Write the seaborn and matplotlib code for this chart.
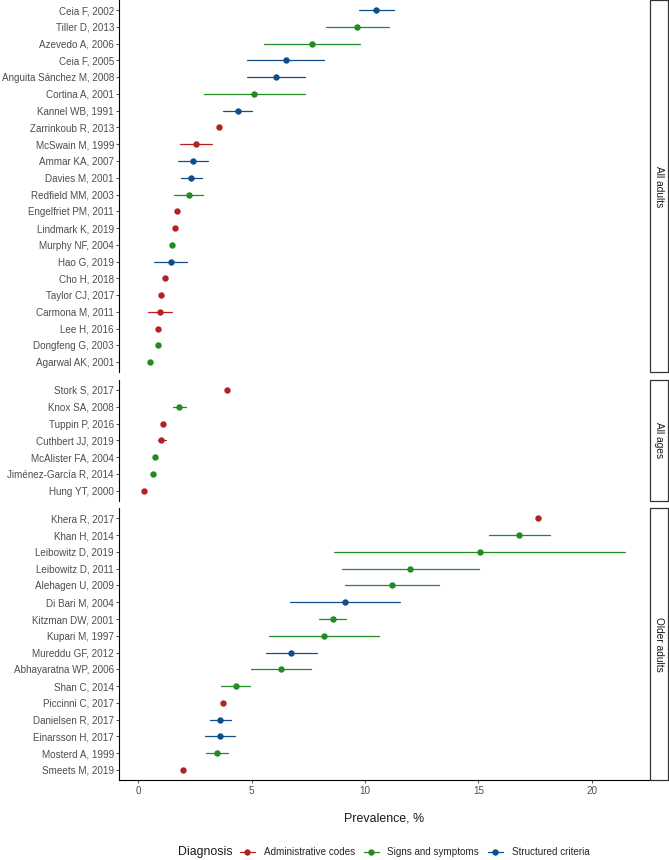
import pandas as pd
import seaborn as sns
import matplotlib.pyplot as plt
from matplotlib.lines import Line2D
from matplotlib.patches import Rectangle

sns.set_theme(style="ticks")
plt.rcParams["font.family"] = ["Liberation Sans", "DejaVu Sans"]

# Studies, grouped by population (order as shown top to bottom)
study = [
    "Ceia F, 2002", "Tiller D, 2013", "Azevedo A, 2006", "Ceia F, 2005",
    "Anguita Sánchez M, 2008", "Cortina A, 2001", "Kannel WB, 1991",
    "Zarrinkoub R, 2013", "McSwain M, 1999", "Ammar KA, 2007", "Davies M, 2001",
    "Redfield MM, 2003", "Engelfriet PM, 2011", "Lindmark K, 2019",
    "Murphy NF, 2004", "Hao G, 2019", "Cho H, 2018", "Taylor CJ, 2017",
    "Carmona M, 2011", "Lee H, 2016", "Dongfeng G, 2003", "Agarwal AK, 2001",
    "Stork S, 2017", "Knox SA, 2008", "Tuppin P, 2016", "Cuthbert JJ, 2019",
    "McAlister FA, 2004", "Jiménez-García R, 2014", "Hung YT, 2000",
    "Khera R, 2017", "Khan H, 2014", "Leibowitz D, 2019", "Leibowitz D, 2011",
    "Alehagen U, 2009", "Di Bari M, 2004", "Kitzman DW, 2001", "Kupari M, 1997",
    "Mureddu GF, 2012", "Abhayaratna WP, 2006", "Shan C, 2014",
    "Piccinni C, 2017", "Danielsen R, 2017", "Einarsson H, 2017",
    "Mosterd A, 1999", "Smeets M, 2019",
]
population = ["All adults"] * 22 + ["All ages"] * 7 + ["Older adults"] * 16

A, S, C = "Administrative codes", "Signs and symptoms", "Structured criteria"
diagnosis = [
    C, S, S, C, C, S, C, A, A, C, C, S, A, A, S, C, A, A, A, A, S, S,
    A, S, A, A, S, S, A,
    A, S, S, S, S, C, S, S, C, S, S, A, C, C, S, A,
]

prevalence = [
    10.49, 9.66, 7.65, 6.51, 6.06, 5.12, 4.39, 3.56, 2.56, 2.43, 2.33,
    2.22, 1.72, 1.63, 1.50, 1.43, 1.19, 1.00, 0.96, 0.88, 0.87, 0.53,
    3.90, 1.81, 1.09, 1.02, 0.72, 0.65, 0.23,
    17.63, 16.78, 15.07, 12.00, 11.20, 9.10, 8.57, 8.19, 6.75, 6.30, 4.31,
    3.75, 3.62, 3.61, 3.46, 1.99,
]
lower = [
    9.74, 8.26, 5.55, 4.80, 4.80, 2.91, 3.75, 3.56, 1.85, 1.77, 1.87,
    1.58, 1.72, 1.63, 1.50, 0.71, 1.19, 1.00, 0.43, 0.88, 0.87, 0.53,
    3.90, 1.52, 1.09, 0.86, 0.72, 0.65, 0.23,
    17.63, 15.46, 8.65, 8.98, 9.13, 6.69, 7.98, 5.77, 5.62, 4.96, 3.66,
    3.75, 3.15, 2.94, 2.99, 1.99,
]
upper = [
    11.26, 11.06, 9.79, 8.21, 7.35, 7.35, 5.03, 3.56, 3.27, 3.09, 2.80,
    2.84, 1.72, 1.63, 1.50, 2.16, 1.19, 1.00, 1.50, 0.88, 0.87, 0.53,
    3.90, 2.12, 1.09, 1.22, 0.72, 0.65, 0.23,
    17.63, 18.15, 21.49, 15.03, 13.28, 11.54, 9.16, 10.61, 7.87, 7.62, 4.93,
    3.75, 4.11, 4.28, 3.95, 1.99,
]

panels = ["All adults", "All ages", "Older adults"]
diag_levels = [A, S, C]
palette = {A: "#B22222", S: "#228B22", C: "#104E8B"}

df = pd.DataFrame({
    "study": study, "population": population, "diagnosis": diagnosis,
    "est": prevalence, "lo": lower, "hi": upper,
})
# long format: lower / estimate / upper -> median gives the point, full range gives the CI
long = df.melt(id_vars=["study", "population", "diagnosis"],
               value_vars=["lo", "est", "hi"], value_name="value")

sizes = [df["population"].eq(p).sum() + 0.2 for p in panels]

fig = plt.figure(figsize=(6.69, 8.6), dpi=100)
gs = fig.add_gridspec(3, 1, height_ratios=sizes, left=0.178, right=0.970,
                      top=1.0, bottom=1 - 780 / 860, hspace=0.03)

tick_col = "#4D4D4D"
for i, p in enumerate(panels):
    ax = fig.add_subplot(gs[i])
    sub = long[long["population"] == p]
    order = df.loc[df["population"] == p, "study"].tolist()
    sns.pointplot(
        data=sub, x="value", y="study", hue="diagnosis",
        order=order, hue_order=diag_levels, palette=palette,
        estimator="median", errorbar=("pi", 100), orient="h",
        dodge=False, linestyle="none", legend=False,
        markersize=4.6, markeredgewidth=0,
        err_kws={"linewidth": 0.9}, ax=ax,
    )
    ax.set_xlim(-0.85, 22.53)
    ax.set_ylim(len(order) - 0.4, -0.6)
    ax.set_xlabel("")
    ax.set_ylabel("")
    ax.set_xticks([0, 5, 10, 15, 20])
    for s in ["top", "right"]:
        ax.spines[s].set_visible(False)
    ax.spines["left"].set_color("black")
    ax.spines["left"].set_linewidth(0.8)
    ax.tick_params(axis="y", length=2.2, width=0.6, pad=1.5,
                   colors="#333333", labelcolor=tick_col, labelsize=7.1)
    if i < 2:
        ax.spines["bottom"].set_visible(False)
        ax.tick_params(axis="x", bottom=False, labelbottom=False)
    else:
        ax.spines["bottom"].set_color("black")
        ax.spines["bottom"].set_linewidth(0.8)
        ax.tick_params(axis="x", length=2.2, width=0.6, pad=1.8,
                       colors="#333333", labelcolor=tick_col, labelsize=7.1)
        ax.set_xlabel("Prevalence, %", fontsize=8.9, color="#1A1A1A",
                      labelpad=12)

    # facet strip on the right
    ax.add_patch(Rectangle((1.002, 0), 0.034, 1, transform=ax.transAxes,
                           clip_on=False, facecolor="white",
                           edgecolor="#333333", linewidth=0.9))
    ax.text(1.019, 0.5, p, transform=ax.transAxes, rotation=-90,
            ha="center", va="center", fontsize=7.3, color="#1A1A1A")

handles = [Line2D([0], [0], color=palette[d], marker="o", markersize=4.6,
                  markeredgewidth=0, linewidth=0.9) for d in diag_levels]
fig.text(178 / 669, 1 - 852 / 860, "Diagnosis", ha="left", va="center",
         fontsize=8.9, color="#1A1A1A")
fig.legend(handles, diag_levels, loc="center left",
           bbox_to_anchor=(240 / 669, 1 - 852 / 860), ncol=3, frameon=False,
           fontsize=7.1, handlelength=1.5, handletextpad=0.9,
           columnspacing=0.9, borderaxespad=0, borderpad=0)

fig.savefig("out.png", dpi=100)
